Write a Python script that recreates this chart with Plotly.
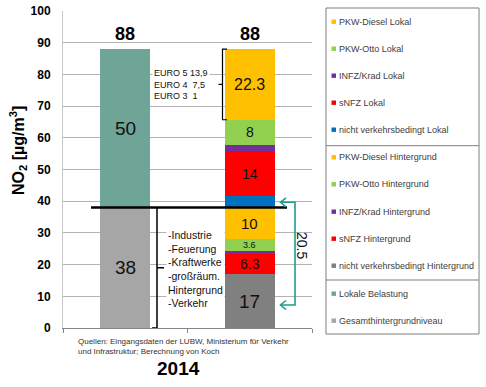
import plotly.graph_objects as go

# ---------------- data ----------------
left_names = ["Gesamthintergrundniveau", "Lokale Belastung"]
left_values = [38, 50]
left_colors = ["#A6A6A6", "#6FA596"]
left_labels = ["38", "50"]

right_names = ["nicht verkehrsbedingt Hintergrund", "sNFZ Hintergrund", "INFZ/Krad Hintergrund",
               "PKW-Otto Hintergrund", "PKW-Diesel Hintergrund", "nicht verkehrsbedingt Lokal",
               "sNFZ Lokal", "INFZ/Krad Lokal", "PKW-Otto Lokal", "PKW-Diesel Lokal"]
right_values = [17, 6.3, 1.1, 3.6, 10, 3.7, 14, 2, 8, 22.3]
right_colors = ["#808080", "#FF0000", "#7030A0", "#92D050", "#FFC000", "#0070C0",
                "#FF0000", "#7030A0", "#92D050", "#FFC000"]
right_labels = ["17", "6.3", "", "3.6", "10", "", "14", "", "8", "22.3"]

totals_text = ["88", "88"]
year_label = "2014"
y_ticks = [0, 10, 20, 30, 40, 50, 60, 70, 80, 90, 100]

legend_order = ["PKW-Diesel Lokal", "PKW-Otto Lokal", "INFZ/Krad Lokal", "sNFZ Lokal",
                "nicht verkehrsbedingt Lokal", "PKW-Diesel Hintergrund", "PKW-Otto Hintergrund",
                "INFZ/Krad Hintergrund", "sNFZ Hintergrund", "nicht verkehrsbedingt Hintergrund",
                "Lokale Belastung", "Gesamthintergrundniveau"]

FONT = "Liberation Sans, Arial, sans-serif"

# ---------------- geometry helpers ----------------
L, R, T, B = 63, 312, 11, 328
W, H = 486, 387


def dx(px):
    return (px - L) / (R - L) * 2.0 - 0.5


def dy(py):
    return (B - py) / (B - T) * 100.0


def pxp(px):
    return (px - L) / (R - L)


def pyp(py):
    return (B - py) / (B - T)


fig = go.Figure()

for n, v, c in zip(left_names, left_values, left_colors):
    fig.add_trace(go.Bar(x=[0], y=[v], name=n, marker=dict(color=c, line=dict(width=0)),
                         width=0.4, showlegend=False, hoverinfo="name+y"))
for n, v, c in zip(right_names, right_values, right_colors):
    fig.add_trace(go.Bar(x=[1], y=[v], name=n, marker=dict(color=c, line=dict(width=0)),
                         width=0.4, showlegend=False, hoverinfo="name+y"))

annotations = []
shapes = []

# segment labels
label_sizes_left = {"38": 19, "50": 19}
cum = 0
for v, t in zip(left_values, left_labels):
    if t:
        annotations.append(dict(x=0, y=cum + v / 2, text=t, showarrow=False,
                                font=dict(size=label_sizes_left.get(t, 16), color="#111", family=FONT)))
    cum += v
left_total = cum

label_sizes_right = {"17": 19, "6.3": 14, "3.6": 9, "10": 15, "14": 14, "8": 14, "22.3": 16}
cum = 0
for v, t in zip(right_values, right_labels):
    if t:
        annotations.append(dict(x=1, y=cum + v / 2, text=t, showarrow=False,
                                font=dict(size=label_sizes_right.get(t, 14), color="#111", family=FONT)))
    cum += v
right_total = cum
bg_total = sum(right_values[:5])

# totals above bars
for xi, (t, tot) in enumerate(zip(totals_text, [left_total, right_total])):
    annotations.append(dict(x=xi, y=tot, text="<b>" + t + "</b>", showarrow=False, yanchor="bottom",
                            yshift=3, font=dict(size=18, color="#000", family=FONT)))

# black line at background level
shapes.append(dict(type="line", xref="x", yref="y", x0=dx(91), x1=dx(287), y0=bg_total, y1=bg_total,
                   line=dict(color="#000", width=2.5), layer="above"))

# upper bracket for PKW-Diesel Lokal
top = right_total
bot = right_total - right_values[-1]
mid = (top + bot) / 2
shapes.append(dict(type="path", xref="x", yref="y",
                   path=f"M {dx(227)},{top} L {dx(222.5)},{top} L {dx(222.5)},{bot} L {dx(227)},{bot}",
                   line=dict(color="#000", width=1.2), layer="above"))
shapes.append(dict(type="line", xref="x", yref="y", x0=dx(222.5), x1=dx(218.5), y0=mid, y1=mid,
                   line=dict(color="#000", width=1.2), layer="above"))

# lower bracket for background
shapes.append(dict(type="path", xref="x", yref="y",
                   path=f"M {dx(152)},0 L {dx(157)},0 L {dx(157)},{bg_total}",
                   line=dict(color="#000", width=1.5), layer="above"))
shapes.append(dict(type="line", xref="x", yref="y", x0=dx(157), x1=dx(164), y0=bg_total / 2, y1=bg_total / 2,
                   line=dict(color="#000", width=1.5), layer="above"))

# teal double arrow
teal = "#1E9E87"
ya, yb = dy(202.3), dy(305)
shapes.append(dict(type="path", xref="x", yref="y",
                   path=f"M {dx(281)},{ya} L {dx(295)},{ya} L {dx(295)},{yb} L {dx(281)},{yb}",
                   line=dict(color=teal, width=1.6), layer="above"))
for yy in (202.3, 305):
    shapes.append(dict(type="path", xref="x", yref="y",
                       path=f"M {dx(286)},{dy(yy - 4.5)} L {dx(280.5)},{dy(yy)} L {dx(286)},{dy(yy + 4.5)}",
                       line=dict(color=teal, width=1.6), layer="above"))
annotations.append(dict(x=dx(302), y=dy(245), text="20.5", textangle=90, showarrow=False,
                        font=dict(size=14, color="#111", family=FONT)))

# explanatory texts
annotations.append(dict(x=dx(152), y=dy(84), xanchor="left", yanchor="middle", align="left",
                        text="EURO 5 13,9<br>EURO 4\u00a0 7,5<br>EURO 3\u00a0 1", showarrow=False,
                        bgcolor="white", borderpad=1, font=dict(size=9, color="#111", family=FONT)))
annotations.append(dict(x=dx(166), y=dy(268.5), xanchor="left", yanchor="middle", align="left",
                        text="-Industrie<br>-Feuerung<br>-Kraftwerke<br>-großräum.<br>Hintergrund<br>-Verkehr",
                        showarrow=False, bgcolor="white", borderpad=1,
                        font=dict(size=10.5, color="#111", family=FONT)))

# source
annotations.append(dict(xref="paper", yref="paper", x=pxp(76), y=pyp(335), xanchor="left", yanchor="top",
                        align="left", showarrow=False,
                        text="Quellen: Eingangsdaten der LUBW, Ministerium für Verkehr<br>und Infrastruktur; Berechnung von Koch",
                        font=dict(size=8, color="#333", family=FONT)))
# year
annotations.append(dict(xref="paper", yref="paper", x=pxp(178), y=pyp(368), xanchor="center", yanchor="middle",
                        showarrow=False, text="<b>" + year_label + "</b>",
                        font=dict(size=19, color="#000", family=FONT)))
# y title
annotations.append(dict(xref="paper", yref="paper", x=pxp(18), y=pyp(151), xanchor="center", yanchor="middle",
                        showarrow=False, textangle=-90, text="<b>NO<sub>2</sub> [µg/m<sup>3</sup>]</b>",
                        font=dict(size=16, color="#000", family=FONT)))

# manual legend
shapes.append(dict(type="rect", xref="paper", yref="paper", x0=pxp(326), x1=pxp(479), y0=pyp(8), y1=pyp(334),
                   line=dict(color="#7F7F7F", width=1), fillcolor="rgba(0,0,0,0)"))
for ly in (145.7, 280):
    shapes.append(dict(type="line", xref="paper", yref="paper", x0=pxp(326), x1=pxp(479), y0=pyp(ly), y1=pyp(ly),
                       line=dict(color="#7F7F7F", width=1)))
color_of = dict(zip(right_names, right_colors))
color_of.update(dict(zip(left_names, left_colors)))
item_y = [21.7, 48.7, 75.7, 102.7, 129.7, 157.3, 184.3, 211.7, 238.7, 265.7, 293.7, 320.7]
for name, yc in zip(legend_order, item_y):
    shapes.append(dict(type="rect", xref="paper", yref="paper", x0=pxp(331.5), x1=pxp(336), y0=pyp(yc - 2.2),
                       y1=pyp(yc + 2.2), line=dict(width=0), fillcolor=color_of[name]))
    annotations.append(dict(xref="paper", yref="paper", x=pxp(337), y=pyp(yc), xanchor="left", yanchor="middle",
                            showarrow=False, text=name, font=dict(size=9, color="#404040", family=FONT)))

fig.update_layout(
    width=W, height=H, barmode="stack",
    margin=dict(l=L, r=W - R, t=T, b=H - B, autoexpand=False),
    paper_bgcolor="white", plot_bgcolor="white",
    font=dict(family=FONT),
    xaxis=dict(range=[-0.5, 1.5], showgrid=False, zeroline=False, tickvals=[-0.5, 0.5, 1.5],
               ticks="outside", ticklen=4, tickcolor="#868686", showticklabels=False,
               showline=True, linecolor="#868686", linewidth=1),
    yaxis=dict(range=[0, 100], tickvals=y_ticks, showgrid=True, gridcolor="#B3B3B3", gridwidth=1,
               zeroline=False, showline=True, linecolor="#C8C8C8", ticks="",
               tickfont=dict(size=12, color="#000", family=FONT, weight="bold"), ticklabelstandoff=9),
    shapes=shapes, annotations=annotations, showlegend=False,
)

fig.write_html("out.html", config={"displayModeBar": False},
               post_script="document.body.style.margin='0';document.body.style.padding='0';")
